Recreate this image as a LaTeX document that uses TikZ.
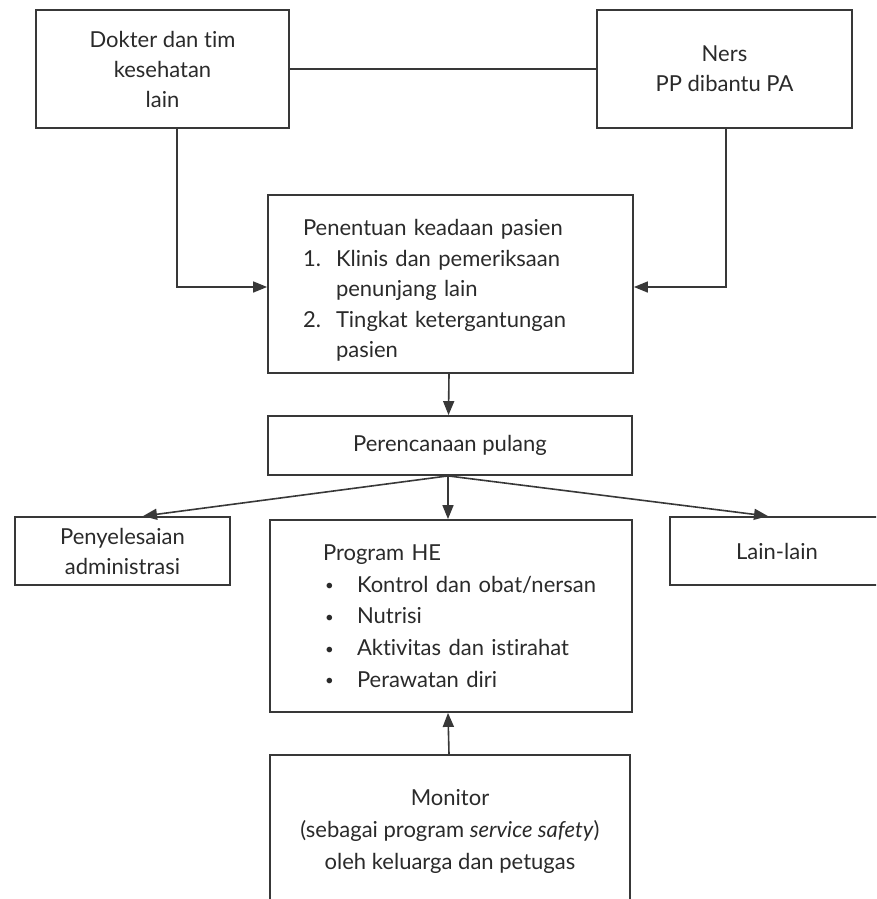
\documentclass[tikz,border=0pt]{standalone}
\usepackage{fontspec}
\setmainfont{Lato}[Ligatures=NoCommon]
\usetikzlibrary{arrows.meta}
\definecolor{ink}{HTML}{2A2A2A}
\definecolor{edge}{HTML}{383838}

% small list bullet
\newcommand{\hebullet}{\raisebox{1.5pt}{\fontsize{15}{15}\selectfont\textbullet}}

\begin{document}
\begin{tikzpicture}[x=1pt,y=-1pt,
  box/.style={draw=edge, line width=1.8pt, rectangle, inner sep=0pt,
    text=ink, font=\fontsize{22}{30}\selectfont, align=center},
  link/.style={draw=edge, line width=1.6pt},
  arr/.style={link, -{Triangle[length=14pt,width=11pt]}}]
\useasboundingbox (0,0) rectangle (876,899);
\clip (0,0) rectangle (876,899);

% top row
\node[box, minimum width=253pt, minimum height=118pt] (doc) at (162.5,69)
  {Dokter dan tim\\kesehatan\\lain};
\node[box, minimum width=255pt, minimum height=118pt] (ners) at (724.5,69)
  {Ners\\PP dibantu PA};

% patient assessment (tall strut on the first line lowers the block a little)
\node[box, minimum width=365pt, minimum height=178pt, text width=295pt, align=left,
  font=\fontsize{22}{30.5}\selectfont]
  (state) at (450.5,284)
  {\mbox{\rule{0pt}{29pt}Penentuan keadaan pasien}\\
   \mbox{\makebox[33pt][l]{1.}Klinis dan pemeriksaan}\\
   \hspace*{33pt}penunjang lain\\
   \mbox{\makebox[33pt][l]{2.}Tingkat ketergantungan}\\
   \hspace*{33pt}pasien};

% discharge planning
\node[box, minimum width=364pt, minimum height=59pt] (plan) at (450,445.5)
  {Perencanaan pulang};

% third row
\node[box, minimum width=215pt, minimum height=68pt] (admin) at (122.5,551)
  {Penyelesaian\\administrasi};
\node[box, minimum width=362pt, minimum height=192pt, text width=256pt, align=left,
  font=\fontsize{22}{31.7}\selectfont] (he) at (451,616)
  {\mbox{Program HE}\\
   \mbox{\makebox[34pt][l]{\hspace*{2pt}\hebullet}Kontrol dan obat/nersan}\\
   \mbox{\makebox[34pt][l]{\hspace*{2pt}\hebullet}Nutrisi}\\
   \mbox{\makebox[34pt][l]{\hspace*{2pt}\hebullet}Aktivitas dan istirahat}\\
   \mbox{\makebox[34pt][l]{\hspace*{2pt}\hebullet}Perawatan diri}};
\node[box, minimum width=214pt, minimum height=68pt] (other) at (777,551)
  {Lain-lain};

% monitoring
\node[box, minimum width=360pt, minimum height=152pt,
  font=\fontsize{22}{32}\selectfont] (mon) at (450,831)
  {Monitor\\(sebagai program \textit{service safety})\\oleh keluarga dan petugas};

% connectors
\draw[link] (doc.east) -- (ners.west);
\draw[arr] ([xshift=14.5pt]doc.south) |- ([yshift=-3pt]state.west);
\draw[arr] ([xshift=1.5pt]ners.south) |- ([yshift=-3pt]state.east);
\draw[arr] ([xshift=-1.5pt]state.south) -- ([xshift=-1.5pt]plan.north);
\draw[arr] ([xshift=-2pt]plan.south) -- ([xshift=20.5pt]admin.north);
\draw[arr] ([xshift=-2pt]plan.south) -- ([xshift=-3pt]he.north);
\draw[arr] ([xshift=-2pt]plan.south) -- ([xshift=-9pt]other.north);
\draw[arr] ([xshift=-1pt]mon.north) -- ([xshift=-3pt]he.south);
\end{tikzpicture}
\end{document}
